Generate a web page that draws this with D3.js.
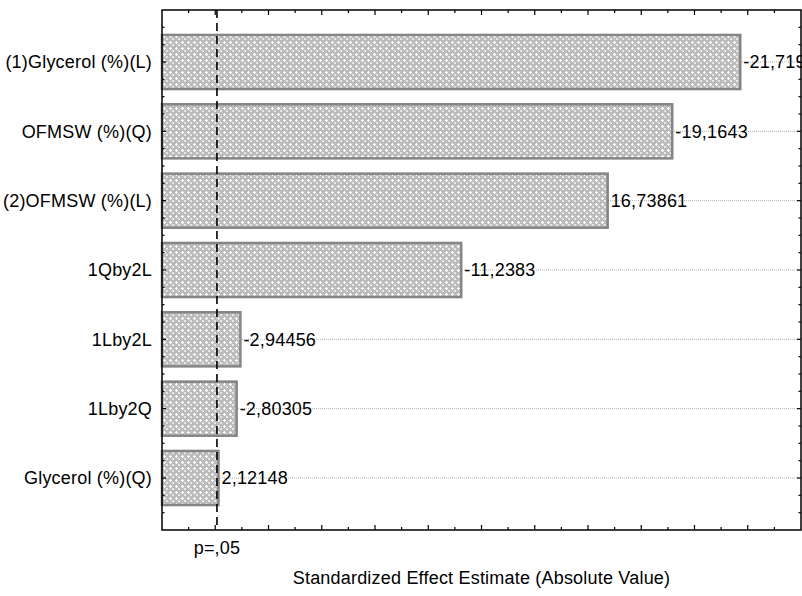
<!DOCTYPE html>
<html>
<head>
<meta charset="utf-8">
<script src="https://cdn.jsdelivr.net/npm/d3@7"></script>
<style>
  body { margin: 0; background: #fff; }
  text { font-family: "Liberation Sans", Arial, sans-serif; letter-spacing: 0.2px; }
</style>
</head>
<body>
<svg id="chart" width="802" height="596"></svg>
<script>
// effects, sorted as in the pareto chart
var effectNames = ["(1)Glycerol (%)(L)", "OFMSW (%)(Q)", "(2)OFMSW (%)(L)", "1Qby2L", "1Lby2L", "1Lby2Q", "Glycerol (%)(Q)"];
var effectValues = [21.719, 19.1643, 16.73861, 11.2383, 2.94456, 2.80305, 2.12148];
var effectLabels = ["-21,719", "-19,1643", "16,73861", "-11,2383", "-2,94456", "-2,80305", "2,12148"];
var pCritical = 2.064;
var pLabel = "p=,05";
var xTitle = "Standardized Effect Estimate (Absolute Value)";

var margin = { top: 10, right: 1, bottom: 66, left: 162 },
    width = 802 - margin.left - margin.right,
    height = 596 - margin.top - margin.bottom;
var fontSize = 18;

var svg = d3.select("#chart");

// crosshatch fill like the statistica bars
var defs = svg.append("defs");
var pat = defs.append("pattern")
    .attr("id", "hatch")
    .attr("patternUnits", "userSpaceOnUse")
    .attr("width", 6).attr("height", 6);
pat.append("rect").attr("width", 6).attr("height", 6).attr("fill", "#bcbcbc");
pat.append("rect").attr("x", 1).attr("y", 2).attr("width", 3).attr("height", 1).attr("fill", "#fff");
pat.append("rect").attr("x", 2).attr("y", 1).attr("width", 1).attr("height", 3).attr("fill", "#fff");
pat.append("rect").attr("x", 5).attr("y", 5).attr("width", 1).attr("height", 1).attr("fill", "#fff");
pat.append("rect").attr("x", 4).attr("y", 4).attr("width", 2).attr("height", 2).attr("fill", "#e6e6e6");

var g = svg.append("g")
    .attr("transform", "translate(" + margin.left + "," + margin.top + ")");

var x = d3.scaleLinear().domain([0, 24]).range([0, width]);
// categories sit at 1..7, with some room top and bottom
var y = d3.scaleLinear().domain([0.25, 7.75]).range([0, height]);
var barH = 0.78;

// dotted gridlines at each bar
g.append("g")
    .selectAll("line")
    .data(effectValues)
    .enter().append("line")
    .attr("x1", 0).attr("x2", width)
    .attr("y1", function(d, i) { return y(i + 1); })
    .attr("y2", function(d, i) { return y(i + 1); })
    .attr("stroke", "#b5b5b5")
    .attr("stroke-width", 1)
    .attr("stroke-dasharray", "1,1");

// bars
g.append("g")
    .selectAll("rect")
    .data(effectValues)
    .enter().append("rect")
    .attr("x", x(0))
    .attr("y", function(d, i) { return y(i + 1 - barH / 2); })
    .attr("width", function(d) { return x(d) - x(0); })
    .attr("height", y(1 + barH) - y(1))
    .attr("fill", "url(#hatch)")
    .attr("stroke", "#858585")
    .attr("stroke-width", 2.5);

// value labels
g.append("g")
    .selectAll("text")
    .data(effectValues)
    .enter().append("text")
    .attr("x", function(d) { return x(d) + 3; })
    .attr("y", function(d, i) { return y(i + 1); })
    .attr("dy", "0.35em")
    .attr("font-size", fontSize)
    .attr("fill", "#000")
    .text(function(d, i) { return effectLabels[i]; });

// category labels
g.append("g")
    .selectAll("text")
    .data(effectNames)
    .enter().append("text")
    .attr("x", -10)
    .attr("y", function(d, i) { return y(i + 1); })
    .attr("dy", "0.35em")
    .attr("text-anchor", "end")
    .attr("font-size", fontSize)
    .attr("fill", "#000")
    .text(function(d) { return d; });

// p = .05 line
g.append("line")
    .attr("x1", x(pCritical)).attr("x2", x(pCritical))
    .attr("y1", 0).attr("y2", height)
    .attr("stroke", "#000")
    .attr("stroke-width", 1.6)
    .attr("stroke-dasharray", "8,5");

// frame
g.append("rect")
    .attr("width", width).attr("height", height)
    .attr("fill", "none")
    .attr("stroke", "#000")
    .attr("stroke-width", 1.5);

// inside ticks, major every 2, minor every 1
var xMinor = d3.range(1, 24, 1);
function tickLen(v) { return v % 2 === 0 ? 5 : 3; }
g.append("g").selectAll("line").data(xMinor).enter().append("line")
    .attr("x1", function(d) { return x(d); }).attr("x2", function(d) { return x(d); })
    .attr("y1", height).attr("y2", function(d) { return height - tickLen(d); })
    .attr("stroke", "#000").attr("stroke-width", 1.2);
g.append("g").selectAll("line").data(xMinor).enter().append("line")
    .attr("x1", function(d) { return x(d); }).attr("x2", function(d) { return x(d); })
    .attr("y1", 0).attr("y2", function(d) { return tickLen(d); })
    .attr("stroke", "#000").attr("stroke-width", 1.2);

var yTicks = d3.range(0.5, 7.75, 0.25);
g.append("g").selectAll("line").data(yTicks).enter().append("line")
    .attr("x1", 0).attr("x2", function(d) { return d % 1 === 0 ? 4 : 2.5; })
    .attr("y1", function(d) { return y(d); }).attr("y2", function(d) { return y(d); })
    .attr("stroke", "#000").attr("stroke-width", 1.2);
g.append("g").selectAll("line").data(yTicks).enter().append("line")
    .attr("x1", width).attr("x2", function(d) { return width - (d % 1 === 0 ? 4 : 2.5); })
    .attr("y1", function(d) { return y(d); }).attr("y2", function(d) { return y(d); })
    .attr("stroke", "#000").attr("stroke-width", 1.2);

// p label under the line
g.append("text")
    .attr("x", x(pCritical))
    .attr("y", height + 24)
    .attr("text-anchor", "middle")
    .attr("font-size", fontSize)
    .text(pLabel);

// axis title
g.append("text")
    .attr("x", width / 2)
    .attr("y", height + 54)
    .attr("text-anchor", "middle")
    .attr("font-size", fontSize)
    .text(xTitle);
</script>
</body>
</html>
